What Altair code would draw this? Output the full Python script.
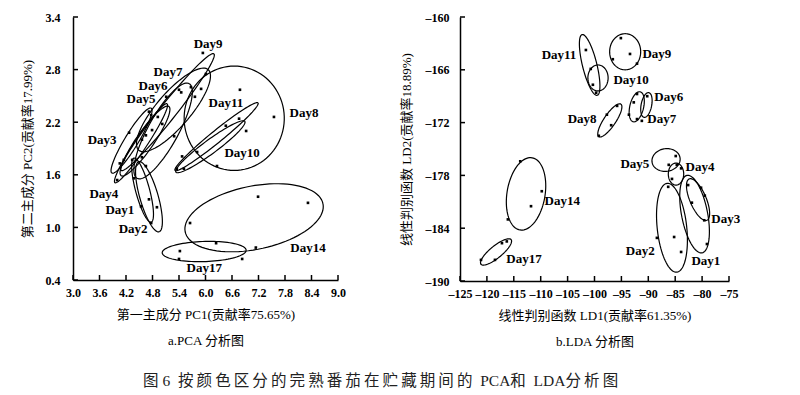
import altair as alt
import pandas as pd
import numpy as np

FONT = "Liberation Serif, Noto Sans CJK SC"
CJK = "Liberation Serif, Noto Sans CJK SC"

# ---------------- PCA data ----------------
pca_pt_day = ["Day9", "Day9", "Day7", "Day7", "Day7", "Day7", "Day7", "Day6", "Day6", "Day6",
              "Day8", "Day8", "Day8", "Day11", "Day11", "Day11", "Day10", "Day10", "Day10", "Day10",
              "Day5", "Day5", "Day5", "Day5", "Day5", "Day5", "Day3", "Day3", "Day4", "Day4", "Day4", "Day4",
              "Day1", "Day1", "Day1", "Day1", "Day2", "Day2",
              "Day14", "Day14", "Day14", "Day14", "Day14", "Day17", "Day17", "Day17"]
pca_pt_x = [5.94, 6.01, 5.40, 5.67, 5.90, 5.76, 5.45, 5.11, 5.02, 5.29,
            6.78, 7.55, 6.26, 6.76, 6.46, 5.35, 6.92, 5.81, 5.47, 5.51,
            4.77, 4.92, 4.65, 4.56, 4.72, 4.79, 4.27, 4.15, 4.00, 4.38, 4.06, 4.34,
            4.54, 4.72, 4.65, 4.56, 4.90, 4.77,
            5.65, 7.19, 8.32, 6.24, 7.14, 5.42, 5.40, 6.83]
pca_pt_y = [2.99, 2.75, 2.57, 2.60, 2.58, 2.49, 2.54, 2.49, 2.18, 2.04,
            2.57, 2.26, 1.70, 2.24, 2.16, 1.67, 2.10, 1.86, 1.81, 1.67,
            2.28, 2.26, 2.05, 2.00, 2.32, 2.11, 2.08, 1.77, 1.54, 1.56, 1.73, 1.77,
            1.24, 1.32, 1.70, 1.80, 1.23, 1.05,
            1.05, 1.35, 1.28, 0.82, 0.77, 0.73, 0.64, 0.64]

pca_ell_day = ["Day1", "Day2", "Day3", "Day4", "Day5", "Day6", "Day7", "Day9", "Day8", "Day11", "Day10", "Day14", "Day17"]
pca_ell_x1 = [4.38, 4.49, 3.88, 3.95, 4.09, 4.45, 4.49, 4.09, 6.65, 5.31, 5.33, 5.54, 5.02]
pca_ell_y1 = [1.79, 1.75, 1.62, 1.51, 1.59, 1.56, 1.88, 1.65, 2.84, 1.65, 1.63, 0.95, 0.71]
pca_ell_x2 = [4.77, 4.95, 4.77, 5.13, 5.17, 5.63, 6.06, 6.19, 6.65, 7.19, 6.89, 8.66, 6.92]
pca_ell_y2 = [1.06, 0.95, 2.36, 2.41, 2.38, 2.64, 2.80, 2.98, 1.65, 2.42, 2.21, 1.27, 0.74]
pca_ell_ratio = [0.21, 0.25, 0.18, 0.13, 0.21, 0.28, 0.32, 0.11, 0.96, 0.11, 0.16, 0.45, 0.24]

pca_lab_day = ["Day9", "Day7", "Day6", "Day5", "Day3", "Day4", "Day1", "Day2", "Day11", "Day10", "Day8", "Day14", "Day17"]
pca_lab_x = [6.06, 5.15, 4.81, 4.54, 3.66, 3.70, 4.06, 4.36, 6.46, 6.83, 8.23, 8.32, 5.97]
pca_lab_y = [3.09, 2.77, 2.61, 2.46, 2.00, 1.38, 1.20, 0.98, 2.42, 1.85, 2.30, 0.77, 0.54]

pca_xticks = [3.0, 3.6, 4.2, 4.8, 5.4, 6.0, 6.6, 7.2, 7.8, 8.4, 9.0]
pca_yticks = [0.4, 1.0, 1.6, 2.2, 2.8, 3.4]

# ---------------- LDA data ----------------
lda_pt_day = ["Day11", "Day11", "Day9", "Day9", "Day9", "Day9", "Day10", "Day10",
              "Day6", "Day6", "Day6", "Day7", "Day7", "Day7", "Day8", "Day8", "Day8", "Day8",
              "Day5", "Day5", "Day5", "Day4", "Day4", "Day3", "Day3", "Day3", "Day3", "Day3", "Day1",
              "Day2", "Day2", "Day2", "Day2", "Day14", "Day14", "Day14", "Day14",
              "Day17", "Day17", "Day17", "Day17"]
lda_pt_x = [-101.6, -100.7, -95.1, -93.4, -92.1, -96.6, -100.3, -99.7,
            -92.1, -90.2, -92.7, -93.6, -92.1, -91.2, -95.8, -97.7, -96.9, -99.2,
            -84.9, -86.2, -84.7, -83.9, -85.6, -82.6, -80.2, -79.5, -81.9, -79.6, -79.1,
            -86.3, -88.4, -85.2, -83.9, -113.8, -109.8, -111.8, -116.1,
            -117.2, -116.3, -118.5, -121.1]
lda_pt_y = [-163.75, -165.9, -162.4, -164.2, -165.3, -164.8, -167.7, -168.6,
            -168.75, -169.0, -169.7, -171.1, -171.6, -171.8, -170.1, -171.1, -172.3, -173.5,
            -175.8, -176.8, -176.8, -177.2, -178.4, -179.1, -179.4, -180.3, -181.1, -183.1, -185.8,
            -179.3, -185.1, -185.0, -186.7, -176.4, -179.8, -181.5, -183.0,
            -185.7, -185.5, -187.6, -187.6]

lda_ell_day = ["Day11", "Day9", "Day10", "Day8", "Day6", "Day7", "Day5", "Day4", "Day3", "Day1", "Day2", "Day14", "Day17"]
lda_ell_x1 = [-102.3, -94.3, -99.35, -99.2, -89.9, -91.5, -89.3, -84.85, -82.4, -82.8, -86.5, -111.6, -121.1]
lda_ell_y1 = [-162.0, -161.9, -165.45, -173.6, -168.6, -168.5, -176.5, -176.6, -178.4, -178.0, -178.9, -176.0, -188.1]
lda_ell_x2 = [-99.5, -94.3, -99.35, -95.1, -90.8, -92.8, -84.1, -84.85, -79.1, -80.0, -84.7, -113.85, -115.5]
lda_ell_y2 = [-168.9, -166.0, -168.4, -169.9, -171.4, -171.9, -176.0, -179.1, -183.1, -186.8, -189.0, -184.2, -185.3]
lda_ell_ratio = [0.23, 0.86, 0.78, 0.30, 0.42, 0.45, 0.80, 0.70, 0.36, 0.33, 0.33, 0.52, 0.31]

lda_lab_day = ["Day11", "Day9", "Day10", "Day6", "Day7", "Day8", "Day5", "Day4", "Day14", "Day3", "Day2", "Day1", "Day17"]
lda_lab_x = [-106.6, -88.4, -93.2, -86.2, -87.5, -102.3, -92.5, -80.4, -106.0, -75.6, -91.5, -79.3, -113.1]
lda_lab_y = [-164.3, -164.2, -167.2, -169.1, -171.6, -171.6, -176.7, -177.0, -180.9, -183.0, -186.6, -187.7, -187.5]

lda_xticks = [-125, -120, -115, -110, -105, -100, -95, -90, -85, -80, -75]
lda_yticks = [-190, -184, -178, -172, -166, -160]

caption_text = "图 6  按颜色区分的完熟番茄在贮藏期间的  PCA和  LDA分析图"

W1, H1 = 265, 263
W2, H2 = 269, 264


def ellipse_df(days, x1, y1, x2, y2, ratio, dx, dy, W, H):
    rows = []
    t = np.linspace(0, 2 * np.pi, 91)
    sx = (dx[1] - dx[0]) / W
    sy = (dy[1] - dy[0]) / H
    for d, a1, b1, a2, b2, r in zip(days, x1, y1, x2, y2, ratio):
        p1 = np.array([(a1 - dx[0]) / sx, (b1 - dy[0]) / sy])
        p2 = np.array([(a2 - dx[0]) / sx, (b2 - dy[0]) / sy])
        c = (p1 + p2) / 2
        a = (p2 - p1) / 2
        b = np.array([-a[1], a[0]]) * r
        pts = c[None, :] + np.cos(t)[:, None] * a[None, :] + np.sin(t)[:, None] * b[None, :]
        for i, (px, py) in enumerate(pts):
            rows.append({"day": d, "i": i, "x": dx[0] + px * sx, "y": dy[0] + py * sy})
    return pd.DataFrame(rows)


def panel(pt, ell, lab, dx, dy, xticks, yticks, fx, fy, W, H, xtitle, ytitle, ylp, ytp, lfs, lexpr):
    xs = alt.Scale(domain=dx, nice=False, zero=False)
    ys = alt.Scale(domain=dy, nice=False, zero=False)
    common = dict(grid=False, ticks=False, domainColor="#000000", domainWidth=1.5,
                  labelFont=FONT, labelFontSize=lfs, labelFontWeight="bold", labelColor="#000000",
                  titleFont=CJK, titleFontWeight="normal", titleColor="#000000",
                  labelOverlap=False, labelFlush=False, labelExpr=lexpr)
    xaxis = alt.Axis(values=xticks, format=fx, title=xtitle, labelPadding=7,
                     titleFontSize=13, titlePadding=10, titleLineHeight=26, **common)
    yaxis = alt.Axis(values=yticks, format=fy, title=ytitle, labelPadding=ylp,
                     titleFontSize=13, titlePadding=ytp, **common)
    e = alt.Chart(ell).mark_line(color="black", strokeWidth=1.2).encode(
        x=alt.X("x:Q", scale=xs, axis=xaxis),
        y=alt.Y("y:Q", scale=ys, axis=yaxis),
        detail="day:N", order="i:Q")
    p = alt.Chart(pt).mark_square(size=7, color="black", opacity=1).encode(
        x=alt.X("x:Q", axis=xaxis), y=alt.Y("y:Q", axis=yaxis))
    t = alt.Chart(lab).mark_text(font=FONT, fontSize=13, fontWeight="bold", color="black").encode(
        x=alt.X("x:Q", axis=xaxis), y=alt.Y("y:Q", axis=yaxis), text="day:N")
    xt = alt.Chart(pd.DataFrame({"x": xticks})).mark_rule(color="black", strokeWidth=1.5).encode(
        x=alt.X("x:Q", axis=xaxis), y=alt.value(H), y2=alt.value(H - 5))
    yt = alt.Chart(pd.DataFrame({"y": yticks})).mark_rule(color="black", strokeWidth=1.5).encode(
        y=alt.Y("y:Q", axis=yaxis), x=alt.value(0), x2=alt.value(5))
    return alt.layer(e, p, t, xt, yt).properties(width=W, height=H)


def spaced(s):
    # reproduce the wide letter spacing of the printed caption; keep its spaces visible
    out = ""
    for i, ch in enumerate(s):
        out += "\u00a0" if ch == " " else ch
        if i + 1 < len(s) and ord(ch) > 0x2E80 and ord(s[i + 1]) > 0x2E80:
            out += "\u2009"
    return out


pca_dx, pca_dy = [3.0, 9.0], [0.4, 3.4]
lda_dx, lda_dy = [-125, -75], [-190, -160]

pca = panel(
    pd.DataFrame({"day": pca_pt_day, "x": pca_pt_x, "y": pca_pt_y}),
    ellipse_df(pca_ell_day, pca_ell_x1, pca_ell_y1, pca_ell_x2, pca_ell_y2, pca_ell_ratio, pca_dx, pca_dy, W1, H1),
    pd.DataFrame({"day": pca_lab_day, "x": pca_lab_x, "y": pca_lab_y}),
    pca_dx, pca_dy, pca_xticks, pca_yticks, ".1f", ".1f", W1, H1,
    ["第一主成分 PC1(贡献率75.65%)", "a.PCA 分析图"], "第二主成分 PC2(贡献率17.99%)", 13, 11, 12,
    "datum.label")

lda = panel(
    pd.DataFrame({"day": lda_pt_day, "x": lda_pt_x, "y": lda_pt_y}),
    ellipse_df(lda_ell_day, lda_ell_x1, lda_ell_y1, lda_ell_x2, lda_ell_y2, lda_ell_ratio, lda_dx, lda_dy, W2, H2),
    pd.DataFrame({"day": lda_lab_day, "x": lda_lab_x, "y": lda_lab_y}),
    lda_dx, lda_dy, lda_xticks, lda_yticks, "d", "d", W2, H2,
    ["线性判别函数 LD1(贡献率61.35%)", "b.LDA 分析图"], "线性判别函数 LD2(贡献率18.89%)", 11, 12, 12,
    "replace(datum.label, '\u2212', '\u2013')")

chart = alt.hconcat(pca, lda, spacing=54).properties(
    title=alt.TitleParams(text=spaced(caption_text),
                          orient="bottom", anchor="middle", font=CJK, fontSize=15.5,
                          fontWeight="normal", color="#222222", offset=26),
    padding={"left": 13, "top": 3, "right": 5, "bottom": 0},
    background="white",
).configure_view(stroke=None).configure_axis(labelOverlap=False)

chart.save("out.html", embed_options={"renderer": "svg", "actions": False})
